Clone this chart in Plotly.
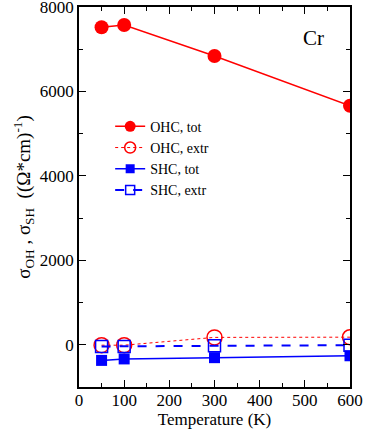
import plotly.graph_objects as go

# 数据
temperature = [50, 100, 300, 600]
ohc_tot = [7520, 7575, 6840, 5660]
ohc_extr = [-10, -10, 175, 180]
shc_tot = [-370, -335, -305, -260]
shc_extr = [-40, -40, -25, -10]

FONT = 'Liberation Serif, Times New Roman, serif'

# 样式
styles = {
    'OHC, tot': dict(line=dict(color='#ff0000', width=1.5),
                     marker=dict(symbol='circle', size=14, color='#ff0000')),
    'OHC, extr': dict(line=dict(color='#ff0000', width=1, dash='dot'),
                      marker=dict(symbol='circle-open', size=15, color='#ff0000', line=dict(width=1.5))),
    'SHC, tot': dict(line=dict(color='#0000ff', width=1.5),
                     marker=dict(symbol='square', size=11, color='#0000ff')),
    'SHC, extr': dict(line=dict(color='#0000ff', width=2, dash='dash'),
                      marker=dict(symbol='square-open', size=12, color='#0000ff', line=dict(width=1.5))),
}
series = {'OHC, tot': ohc_tot, 'OHC, extr': ohc_extr, 'SHC, tot': shc_tot, 'SHC, extr': shc_extr}

fig = go.Figure()
for name, values in series.items():
    fig.add_trace(go.Scatter(x=temperature, y=values, name=name, mode='lines+markers',
                             showlegend=False, **styles[name]))

# 图例（较小的符号）
for name in series:
    st = styles[name]
    mk = dict(st['marker'])
    mk['size'] = 11 if 'OHC' in name else 9
    fig.add_trace(go.Scatter(x=[None], y=[None], name=name, mode='lines+markers',
                             line=st['line'], marker=mk))

fig.add_annotation(
    x=0.91, y=0.955, xref='paper', yref='paper', text='Cr', showarrow=False,
    font=dict(family=FONT, size=21, color='black')
)

fig.update_layout(
    width=366, height=430,
    margin=dict(l=79, r=16, t=7, b=43, autoexpand=False),
    plot_bgcolor='white', paper_bgcolor='white',
    font=dict(family=FONT, size=17, color='black'),
    showlegend=True,
    legend=dict(
        x=0.115, y=0.727, xanchor='left', yanchor='top',
        bgcolor='rgba(0,0,0,0)', font=dict(family=FONT, size=14, color='black'),
        itemwidth=30, tracegroupgap=0
    )
)

axis_style = dict(
    ticks='inside', ticklen=7, tickwidth=1, tickcolor='black',
    showline=True, linecolor='black', linewidth=1.5, mirror='allticks',
    showgrid=False, zeroline=False, ticklabeloverflow='allow', automargin=False,
    tickfont=dict(family=FONT, size=17, color='black')
)
fig.update_xaxes(
    range=[0, 600], tickvals=[0, 100, 200, 300, 400, 500, 600],
    minor=dict(tickvals=[50, 150, 250, 350, 450, 550], ticks='inside', ticklen=4, tickcolor='black'),
    ticklabelstandoff=-3,
    title=dict(text='Temperature (K)', standoff=0, font=dict(family=FONT, size=17, color='black')),
    **axis_style
)
fig.update_yaxes(
    range=[-1000, 8000], tickvals=[0, 2000, 4000, 6000, 8000],
    minor=dict(tickvals=[-1000, 1000, 3000, 5000, 7000], ticks='inside', ticklen=4, tickcolor='black'),
    title=dict(text='σ<sub>OH</sub> , σ<sub>SH</sub>  ((Ω*cm)<sup>-1</sup>)', standoff=4,
               font=dict(family=FONT, size=19, color='black')),
    **axis_style
)

fig.write_html('out.html', config={'displayModeBar': False},
               post_script="document.body.style.margin='0';")
